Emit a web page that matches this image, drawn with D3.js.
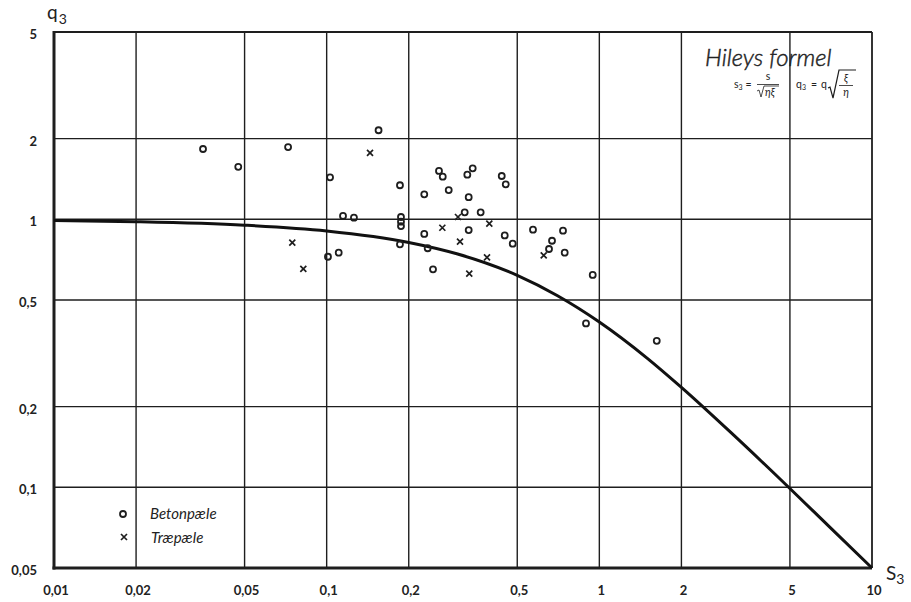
<!DOCTYPE html>
<html>
<head>
<meta charset="utf-8">
<script src="https://cdn.jsdelivr.net/npm/d3@7"></script>
<style>
  html, body { margin: 0; padding: 0; background: #fff; }
  svg { display: block; }
  .tick-label { font-family: Lato, "DejaVu Sans", sans-serif; font-size: 13px; font-weight: 700; fill: #222; }
  .title { font-family: Lato, "DejaVu Sans", sans-serif; font-style: italic; font-weight: 300; fill: #222; stroke: #222; stroke-width: 0.45px; }
  .legend { font-family: Lato, "DejaVu Sans", sans-serif; font-style: italic; font-weight: 400; font-size: 15px; fill: #222; }
  .formula { font-family: Lato, "DejaVu Sans", sans-serif; fill: #222; }
</style>
</head>
<body>
<svg id="chart" width="911" height="602"></svg>
<script>
// Tick values and their printed labels (Danish decimal comma)
const xTicks = [0.01, 0.02, 0.05, 0.1, 0.2, 0.5, 1, 2, 5, 10];
const xTickLabels = ["0,01", "0,02", "0,05", "0,1", "0,2", "0,5", "1", "2", "5", "10"];
const yTicks = [0.05, 0.1, 0.2, 0.5, 1, 2, 5];
const yTickLabels = ["0,05", "0,1", "0,2", "0,5", "1", "2", "5"];

// Hiley curve: q3 against s3
const curveS = [0.01, 0.02, 0.05, 0.1, 0.2, 0.3, 0.5, 0.7, 1, 1.5, 2, 3, 5, 7, 10];
const curveQ = [0.990, 0.980, 0.951, 0.905, 0.820, 0.744, 0.618, 0.520, 0.414, 0.303, 0.236, 0.162, 0.099, 0.071, 0.050];

// Concrete piles (Betonpæle)
const betonS = [0.155, 0.0352, 0.0722, 0.0474, 0.1029, 0.1857, 0.1148, 0.1259, 0.1873, 0.1873, 0.1873,
  0.1857, 0.1011, 0.1107, 0.2582, 0.2665, 0.3280, 0.3432, 0.4386, 0.4537, 0.2280, 0.2803, 0.3318,
  0.3208, 0.3671, 0.3318, 0.2280, 0.2347, 0.4498, 0.4812, 0.2455, 0.5711, 0.7358, 0.6706, 0.6538,
  0.7464, 0.9456, 0.8935, 1.624];
const betonQ = [2.15, 1.83, 1.86, 1.57, 1.435, 1.34, 1.03, 1.014, 1.02, 0.98, 0.944,
  0.807, 0.725, 0.751, 1.515, 1.442, 1.467, 1.55, 1.451, 1.351, 1.24, 1.286, 1.21,
  1.062, 1.062, 0.912, 0.882, 0.78, 0.871, 0.811, 0.651, 0.915, 0.907, 0.832, 0.775,
  0.751, 0.62, 0.409, 0.352];

// Timber piles (Træpæle)
const traeS = [0.1442, 0.0748, 0.0821, 0.3031, 0.3949, 0.2656, 0.3083, 0.3873, 0.3334, 0.6252];
const traeQ = [1.77, 0.818, 0.653, 1.02, 0.963, 0.93, 0.825, 0.721, 0.627, 0.734];

const svg = d3.select("#chart");
const x = d3.scaleLog().domain([0.01, 10]).range([54, 872]);
const y = d3.scaleLog().domain([0.05, 5]).range([568, 32]);
const ink = "#1e1e1e";

// Grid
const grid = svg.append("g").attr("stroke", ink).attr("stroke-width", 1.4);
grid.selectAll("line.v").data(xTicks.slice(1)).join("line")
  .attr("x1", d => x(d)).attr("x2", d => x(d))
  .attr("y1", y(5)).attr("y2", y(0.05))
  .attr("stroke-width", d => d === 10 ? 1.8 : 1.4);
grid.selectAll("line.h").data(yTicks.slice(1)).join("line")
  .attr("x1", x(0.01)).attr("x2", x(10))
  .attr("y1", d => y(d)).attr("y2", d => y(d))
  .attr("stroke-width", d => d === 5 ? 2.2 : 1.4);

// Heavy axis lines
svg.append("line").attr("x1", x(0.01)).attr("x2", x(0.01)).attr("y1", y(5) - 1).attr("y2", y(0.05) + 1.5)
  .attr("stroke", ink).attr("stroke-width", 3);
svg.append("line").attr("x1", x(0.01) - 1.5).attr("x2", x(10)).attr("y1", y(0.05)).attr("y2", y(0.05))
  .attr("stroke", ink).attr("stroke-width", 3);

// Axis tick labels
svg.append("g").selectAll("text").data(xTicks).join("text")
  .attr("class", "tick-label")
  .attr("x", d => x(d) + 2).attr("y", 595)
  .attr("text-anchor", "middle")
  .text((d, i) => xTickLabels[i]);
svg.append("g").selectAll("text").data(yTicks).join("text")
  .attr("class", "tick-label")
  .attr("x", 37).attr("y", d => y(d) + 7)
  .attr("text-anchor", "end")
  .text((d, i) => yTickLabels[i]);

// Axis titles
const qLab = svg.append("text").attr("class", "formula").attr("x", 47).attr("y", 19).attr("font-size", 19);
qLab.append("tspan").text("q");
qLab.append("tspan").attr("dx", 1).attr("dy", 5).attr("font-size", 14).text("3");
const sLab = svg.append("text").attr("class", "formula").attr("x", 886).attr("y", 580).attr("font-size", 19);
sLab.append("tspan").text("S");
sLab.append("tspan").attr("dx", 0).attr("dy", 4).attr("font-size", 14).text("3");

// Curve
const line = d3.line().x(d => x(d[0])).y(d => y(d[1])).curve(d3.curveMonotoneX);
svg.append("path")
  .datum(curveS.map((s, i) => [s, curveQ[i]]))
  .attr("d", line)
  .attr("fill", "none").attr("stroke", "#111").attr("stroke-width", 3);

// Markers
svg.append("g").selectAll("circle").data(betonS.map((s, i) => [s, betonQ[i]])).join("circle")
  .attr("cx", d => x(d[0])).attr("cy", d => y(d[1])).attr("r", 3)
  .attr("fill", "none").attr("stroke", ink).attr("stroke-width", 1.8);
const cr = 3;
svg.append("g").selectAll("path").data(traeS.map((s, i) => [s, traeQ[i]])).join("path")
  .attr("d", d => {
    const cx = x(d[0]), cy = y(d[1]);
    return `M${cx - cr},${cy - cr}L${cx + cr},${cy + cr}M${cx - cr},${cy + cr}L${cx + cr},${cy - cr}`;
  })
  .attr("stroke", ink).attr("stroke-width", 1.7).attr("fill", "none");

// Legend
svg.append("circle").attr("cx", 123).attr("cy", 514).attr("r", 3)
  .attr("fill", "none").attr("stroke", ink).attr("stroke-width", 1.8);
svg.append("path").attr("d", `M${124 - cr},${537 - cr}L${124 + cr},${537 + cr}M${124 - cr},${537 + cr}L${124 + cr},${537 - cr}`)
  .attr("stroke", ink).attr("stroke-width", 1.7);
svg.append("text").attr("class", "legend").attr("x", 150).attr("y", 519).text("Betonpæle");
svg.append("text").attr("class", "legend").attr("x", 151).attr("y", 543).text("Træpæle");

// Title box text
svg.append("text").attr("class", "title").attr("x", 705).attr("y", 66).attr("font-size", 24).text("Hileys formel");

// s3 = s / sqrt(eta xi)
const f = svg.append("g").attr("class", "formula").attr("font-size", 10.5);
const s3 = f.append("text").attr("x", 734).attr("y", 88);
s3.append("tspan").text("s");
s3.append("tspan").attr("dy", 2).attr("font-size", 7).text("3");
s3.append("tspan").attr("dy", -2).attr("dx", 3).text("=");
f.append("text").attr("x", 768).attr("y", 80).attr("text-anchor", "middle").text("s");
f.append("line").attr("x1", 757).attr("x2", 779).attr("y1", 84.5).attr("y2", 84.5).attr("stroke", ink).attr("stroke-width", 0.8);
f.append("path").attr("d", "M757,91 L759,90 L761,97 L764,86 L779,86").attr("fill", "none").attr("stroke", ink).attr("stroke-width", 0.8);
f.append("text").attr("x", 765).attr("y", 96).attr("font-style", "italic").text("ηξ");

// q3 = q sqrt(xi / eta)
const q3 = f.append("text").attr("x", 796).attr("y", 88);
q3.append("tspan").text("q");
q3.append("tspan").attr("dy", 2).attr("font-size", 7).text("3");
q3.append("tspan").attr("dy", -2).attr("dx", 5).text("=");
q3.append("tspan").attr("dx", 4).text("q");
f.append("path").attr("d", "M828,88 L830,87 L833,98 L839,70 L856,70").attr("fill", "none").attr("stroke", ink).attr("stroke-width", 1.2);
f.append("text").attr("x", 846).attr("y", 82).attr("text-anchor", "middle").attr("font-style", "italic").text("ξ");
f.append("line").attr("x1", 839).attr("x2", 853).attr("y1", 85.5).attr("y2", 85.5).attr("stroke", ink).attr("stroke-width", 0.8);
f.append("text").attr("x", 846).attr("y", 96).attr("text-anchor", "middle").attr("font-style", "italic").text("η");
</script>
</body>
</html>
